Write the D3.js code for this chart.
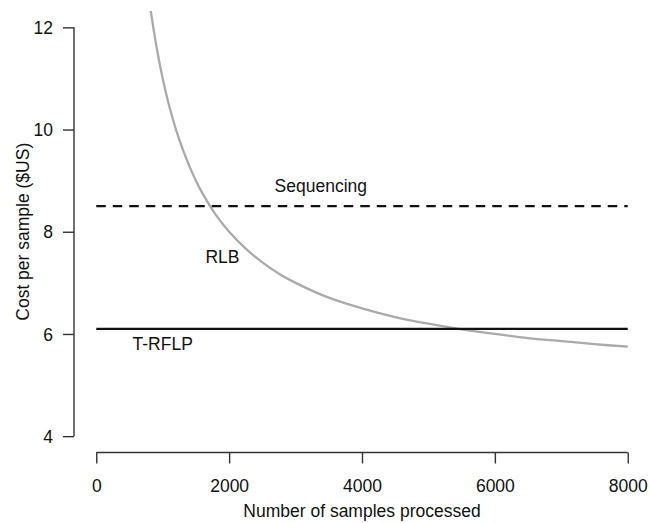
<!DOCTYPE html>
<html>
<head>
<meta charset="utf-8">
<script src="https://cdn.jsdelivr.net/npm/d3@7"></script>
<style>
  html, body { margin: 0; padding: 0; background: #fff; }
  svg { display: block; font-family: "Liberation Sans", Arial, Helvetica, sans-serif; }
</style>
</head>
<body>
<svg id="chart" width="650" height="523"></svg>
<script>
// ---- data ----
const xTicks = [0, 2000, 4000, 6000, 8000];
const yTicks = [4, 6, 8, 10, 12];
const rlbSamples = [800, 900, 1000, 1100, 1200, 1300, 1400, 1500, 1600, 1800, 2000, 2250, 2500, 2750, 3000, 3500, 4000, 4500, 5000, 5500, 6000, 6500, 7000, 7500, 8000];
const rlbCost    = [12.5, 11.67, 11.0, 10.45, 10.0, 9.62, 9.29, 9.0, 8.75, 8.33, 8.0, 7.67, 7.4, 7.18, 7.0, 6.71, 6.5, 6.33, 6.2, 6.09, 6.0, 5.92, 5.86, 5.8, 5.75];
const sequencingCost = 8.5;
const trflpCost = 6.1;
const sampleRange = [0, 8000];
const labelNames = ["Sequencing", "RLB", "T-RFLP"];
const labelX = [3380, 1900, 1000];
const labelY = [8.9, 7.5, 5.8];
const xTitle = "Number of samples processed";
const yTitle = "Cost per sample ($US)";

// ---- layout ----
const svg = d3.select("#chart");
const plot = { left: 75, right: 649, top: 11, bottom: 452.5 };
const x = d3.scaleLinear().domain([-320, 8320]).range([plot.left, plot.right]);
const y = d3.scaleLinear().domain([3.68, 12.32]).range([plot.bottom, plot.top]);
const axisColor = "#333";
const fontSize = 17.5;

svg.append("rect").attr("width", 650).attr("height", 523).attr("fill", "#fff");

svg.append("defs").append("clipPath").attr("id", "clip")
  .append("rect")
  .attr("x", plot.left).attr("y", plot.top)
  .attr("width", plot.right - plot.left).attr("height", plot.bottom - plot.top);

// ---- y axis ----
const yAxis = svg.append("g").attr("transform", `translate(${plot.left - 1},0)`)
  .call(d3.axisLeft(y).tickValues(yTicks).tickSize(11).tickSizeOuter(0).tickPadding(10).tickFormat(d3.format("d")));
yAxis.select(".domain").remove();
yAxis.append("line").attr("x1", 0).attr("x2", 0).attr("y1", y(yTicks[0])).attr("y2", y(yTicks[yTicks.length - 1]))
  .attr("stroke", axisColor).attr("stroke-width", 1.4);
yAxis.selectAll(".tick line").attr("stroke", axisColor).attr("stroke-width", 1.4);
yAxis.selectAll(".tick text").attr("font-size", fontSize).attr("fill", "#111")
  .attr("font-family", "Liberation Sans, Arial, sans-serif").attr("dy", "0.35em");

// ---- x axis ----
const xAxis = svg.append("g").attr("transform", `translate(0,${plot.bottom})`)
  .call(d3.axisBottom(x).tickValues(xTicks).tickSize(11).tickSizeOuter(0).tickPadding(16).tickFormat(d3.format("d")));
xAxis.select(".domain").remove();
xAxis.append("line").attr("y1", 0).attr("y2", 0).attr("x1", x(xTicks[0])).attr("x2", x(xTicks[xTicks.length - 1]))
  .attr("stroke", axisColor).attr("stroke-width", 1.4);
xAxis.selectAll(".tick line").attr("stroke", axisColor).attr("stroke-width", 1.4);
xAxis.selectAll(".tick text").attr("font-size", fontSize).attr("fill", "#111")
  .attr("font-family", "Liberation Sans, Arial, sans-serif");

// ---- axis titles ----
svg.append("text").attr("x", (plot.left + plot.right) / 2).attr("y", 517)
  .attr("text-anchor", "middle").attr("font-size", fontSize).attr("fill", "#111").text(xTitle);
svg.append("text")
  .attr("transform", `translate(28.5,${(plot.top + plot.bottom) / 2}) rotate(-90)`)
  .attr("text-anchor", "middle").attr("font-size", fontSize).attr("fill", "#111").text(yTitle);

// ---- series ----
const g = svg.append("g").attr("clip-path", "url(#clip)");

const rlb = rlbSamples.map((n, i) => ({ n, c: rlbCost[i] }));
g.append("path").datum(rlb)
  .attr("fill", "none").attr("stroke", "#aaaaaa").attr("stroke-width", 2.3)
  .attr("d", d3.line().x(d => x(d.n)).y(d => y(d.c)).curve(d3.curveCatmullRom.alpha(0.5)));

g.append("line")
  .attr("x1", x(sampleRange[0])).attr("x2", x(sampleRange[1]))
  .attr("y1", y(sequencingCost)).attr("y2", y(sequencingCost))
  .attr("stroke", "#111").attr("stroke-width", 2.2).attr("stroke-dasharray", "9.5,7");

g.append("line")
  .attr("x1", x(sampleRange[0])).attr("x2", x(sampleRange[1]))
  .attr("y1", y(trflpCost)).attr("y2", y(trflpCost))
  .attr("stroke", "#111").attr("stroke-width", 2.2);

// ---- labels ----
svg.append("g").selectAll("text").data(labelNames).join("text")
  .attr("x", (d, i) => x(labelX[i]))
  .attr("y", (d, i) => y(labelY[i]))
  .attr("dy", "0.35em")
  .attr("text-anchor", "middle")
  .attr("font-size", fontSize).attr("fill", "#111")
  .text(d => d);
</script>
</body>
</html>
